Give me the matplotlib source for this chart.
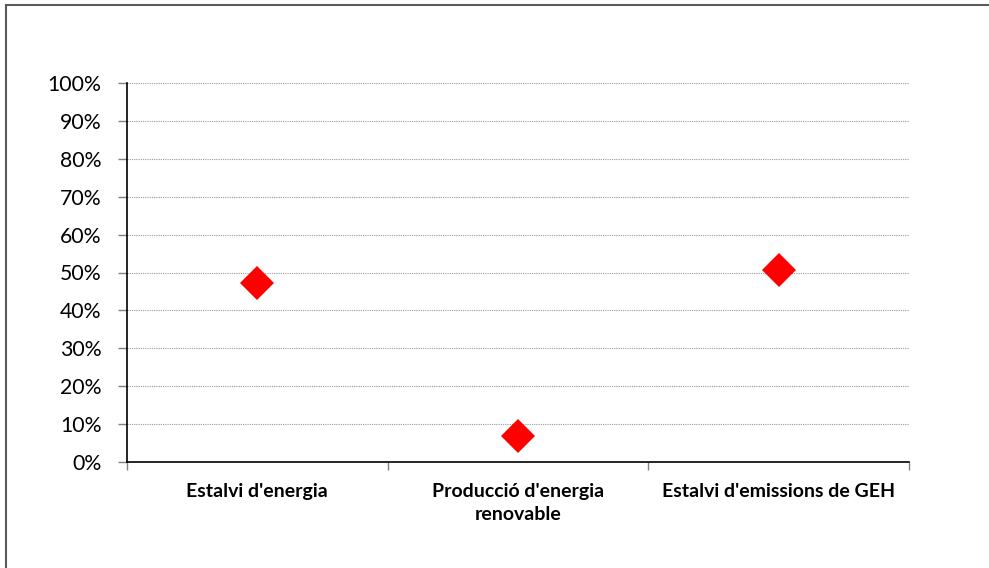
import matplotlib
matplotlib.use("Agg")
import matplotlib.pyplot as plt
from matplotlib.patches import Rectangle
from matplotlib.ticker import FixedLocator, PercentFormatter

plt.rcParams['font.family'] = ['Lato', 'DejaVu Sans']

# data
categories = ["Estalvi d'energia", "Producció d'energia\nrenovable", "Estalvi d'emissions de GEH"]
values = [47.3, 6.9, 50.6]
y_ticks = list(range(0, 101, 10))

W, H = 989, 568
fig = plt.figure(figsize=(W / 100, H / 100), dpi=100)
ax = fig.add_axes([127 / W, 1 - 462 / H, (909 - 127) / W, (462 - 83) / H])

x = list(range(len(categories)))
ax.plot(x, values, linestyle='none', marker='D', markersize=17.5,
        color='#ff0000', markeredgewidth=0, clip_on=False, zorder=3)

ax.set_xlim(-0.5, len(categories) - 0.5)
ax.set_ylim(0, 100)

# y axis
ax.set_yticks(y_ticks)
ax.yaxis.set_major_formatter(PercentFormatter(decimals=0))
ax.tick_params(axis='y', length=6.5, width=1, color='#808080', pad=12, labelsize=15.3)
ax.grid(axis='y', color='#9a9a9a', linestyle=(0, (1, 1)), linewidth=0.8)
ax.set_axisbelow(True)

# x axis: tick marks between categories, labels centred
ax.xaxis.set_major_locator(FixedLocator([i - 0.5 for i in range(len(categories) + 1)]))
ax.xaxis.set_minor_locator(FixedLocator(x))
ax.set_xticklabels([], minor=False)
ax.set_xticklabels(categories, minor=True, fontweight='bold', fontsize=14, linespacing=1.45)
ax.tick_params(axis='x', which='major', length=5.5, width=1, color='#808080')
ax.tick_params(axis='x', which='minor', length=0, pad=15)

for s in ['top', 'right']:
    ax.spines[s].set_visible(False)
ax.spines['left'].set_color('black')
ax.spines['bottom'].set_color('black')
ax.spines['left'].set_linewidth(1.2)
ax.spines['bottom'].set_linewidth(1.2)

# chart area border (only left and top visible in the reference)
fig.patches.append(Rectangle((6 / W, -0.1), 2, 1 - 5 / H + 0.1, transform=fig.transFigure,
                             fill=False, edgecolor='#5a5a5a', linewidth=1.5))

fig.savefig('out.png', dpi=100)
